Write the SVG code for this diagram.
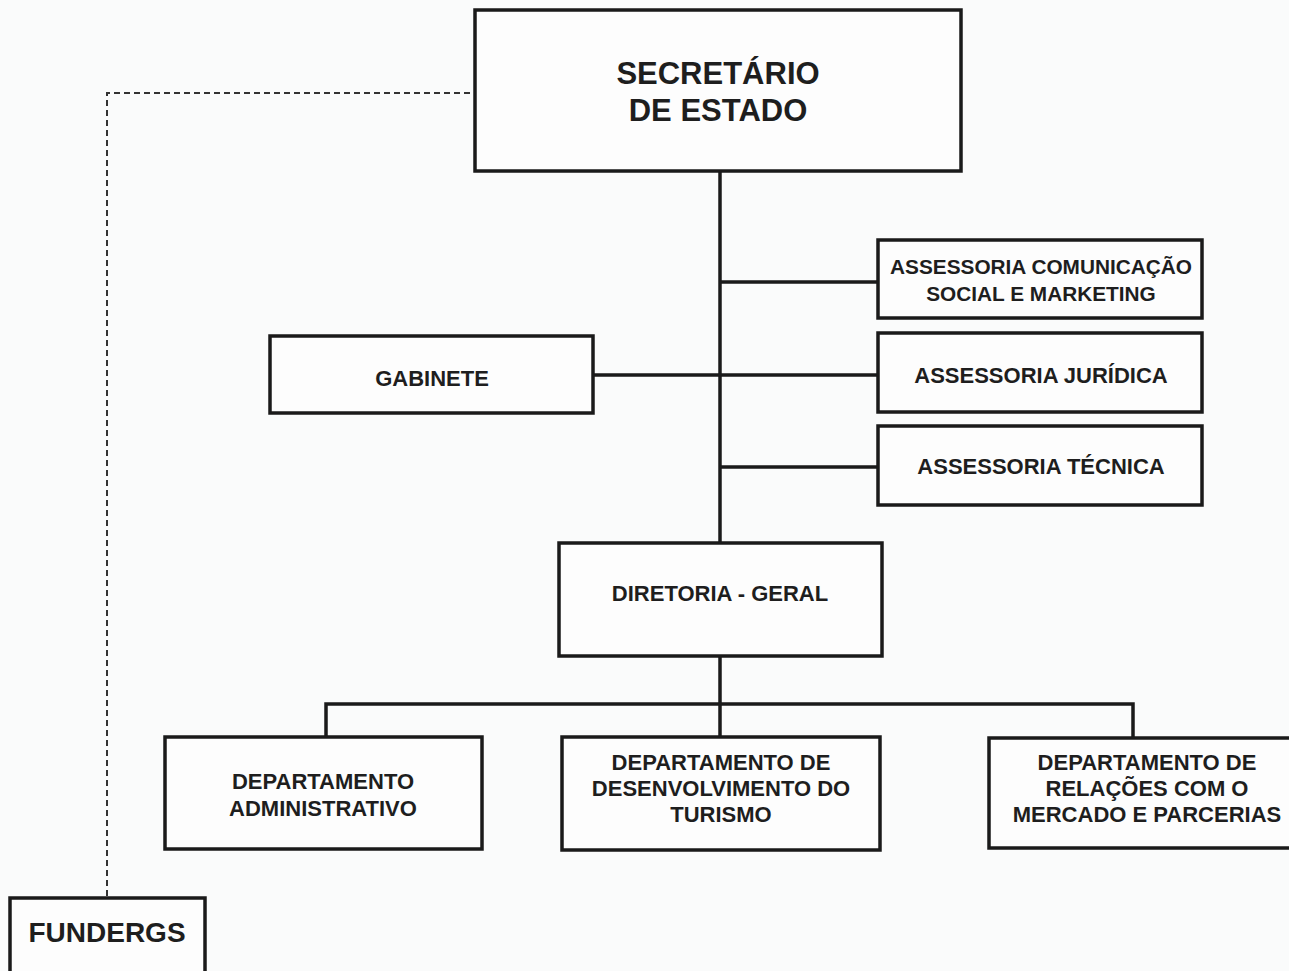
<svg xmlns="http://www.w3.org/2000/svg" width="1289" height="971" viewBox="0 0 1289 971">
<style>
.box{fill:#fdfdfd;stroke:#1a1a1a;stroke-width:3.5}
.ln{fill:none;stroke:#1a1a1a;stroke-width:3.5}
.dash{fill:none;stroke:#333;stroke-width:2;stroke-dasharray:6 4}
text{font-family:"Liberation Sans",Arial,sans-serif;font-weight:bold;fill:#1e1e1e;text-anchor:middle;font-size:22px}
</style>
<rect width="1289" height="971" fill="#fafbfb"/>
<g id="connectors">
<path class="dash" d="M470,93 H107 V898"/>
<path class="ln" d="M720,171 V543"/>
<path class="ln" d="M720,282 H878 M720,467 H878 M593,375 H878"/>
<path class="ln" d="M720,656 V704 M326,737 V704 H1133 V738 M720,704 V737"/>
</g>
<g id="secretario">
<rect class="box" x="475" y="10" width="486" height="161"/>
<text x="718" y="84" style="font-size:31px">SECRETÁRIO</text>
<text x="718" y="121" style="font-size:31px">DE ESTADO</text>
</g>
<g id="ascom">
<rect class="box" x="878" y="240" width="324" height="78"/>
<text x="1041" y="274" style="font-size:20.8px">ASSESSORIA COMUNICAÇÃO</text>
<text x="1041" y="301" style="font-size:20.8px">SOCIAL E MARKETING</text>
</g>
<g id="juridica">
<rect class="box" x="878" y="333" width="324" height="79"/>
<text x="1041" y="383">ASSESSORIA JURÍDICA</text>
</g>
<g id="tecnica">
<rect class="box" x="878" y="426" width="324" height="79"/>
<text x="1041" y="474">ASSESSORIA TÉCNICA</text>
</g>
<g id="gabinete">
<rect class="box" x="270" y="336" width="323" height="77"/>
<text x="432" y="386">GABINETE</text>
</g>
<g id="diretoria">
<rect class="box" x="559" y="543" width="323" height="113"/>
<text x="720" y="601">DIRETORIA - GERAL</text>
</g>
<g id="dep-adm">
<rect class="box" x="165" y="737" width="317" height="112"/>
<text x="323" y="789">DEPARTAMENTO</text>
<text x="323" y="816">ADMINISTRATIVO</text>
</g>
<g id="dep-tur">
<rect class="box" x="562" y="737" width="318" height="113"/>
<text x="721" y="770">DEPARTAMENTO DE</text>
<text x="721" y="796">DESENVOLVIMENTO DO</text>
<text x="721" y="822">TURISMO</text>
</g>
<g id="dep-merc">
<rect class="box" x="989" y="738" width="320" height="110"/>
<text x="1147" y="770">DEPARTAMENTO DE</text>
<text x="1147" y="796">RELAÇÕES COM O</text>
<text x="1147" y="822">MERCADO E PARCERIAS</text>
</g>
<g id="fundergs">
<rect class="box" x="10" y="898" width="195" height="90"/>
<text x="107" y="942" style="font-size:28px">FUNDERGS</text>
</g>
</svg>
